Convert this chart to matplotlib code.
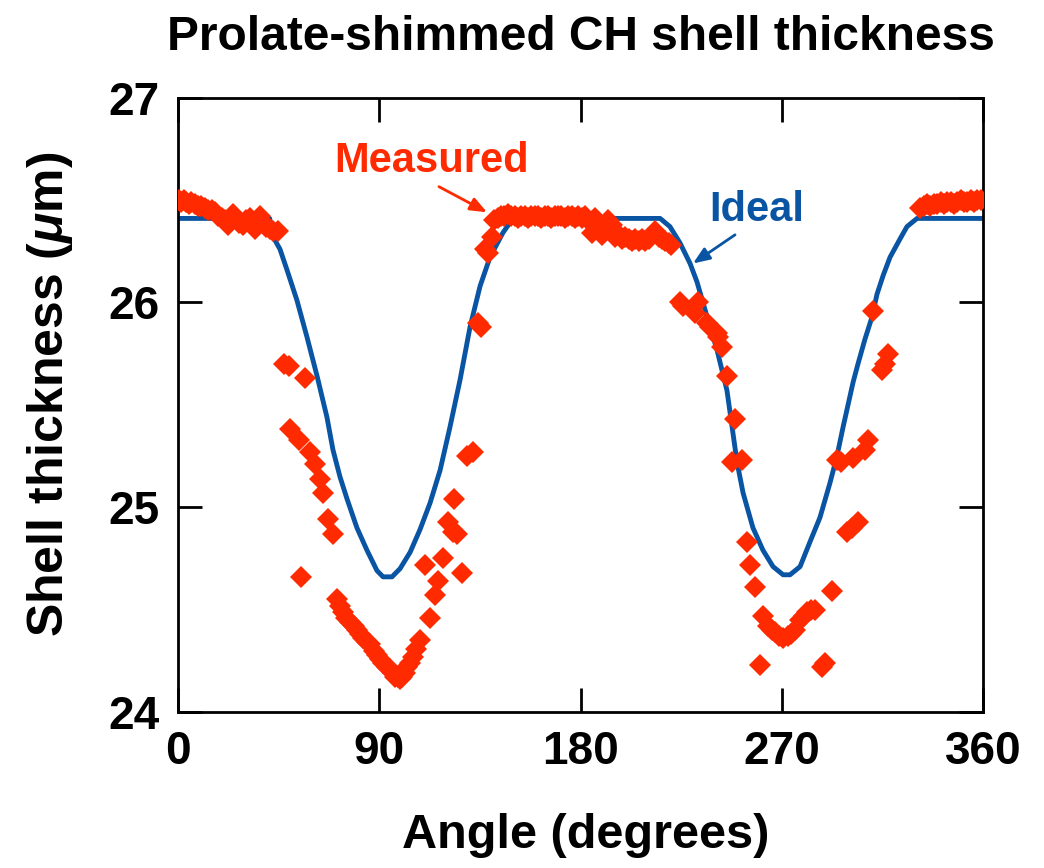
import matplotlib
matplotlib.use('Agg')
import matplotlib.pyplot as plt
from matplotlib import rcParams

rcParams['font.family'] = ['Liberation Sans', 'DejaVu Sans']
rcParams['font.weight'] = 'bold'
rcParams['mathtext.fontset'] = 'custom'
rcParams['mathtext.it'] = 'Liberation Sans:bold:italic'
rcParams['mathtext.rm'] = 'Liberation Sans:bold'

RED = '#ff2a00'
BLUE = '#0a55a3'

# ideal (design) thickness profile
ideal_angle = [0, 41.0, 42.5, 45.6, 48.7, 53.2, 57.7, 62.2, 66.6, 69.3, 72.4,
               75.6, 80.0, 84.5, 89.0, 91.7, 95.7, 99.3, 103.8, 108.2, 112.7,
               117.2, 121.6, 126.1, 130.6, 135.1, 139.5, 145.3, 148.5, 150.3,
               215.6, 220.0, 224.5, 229.0, 232.1, 236.6, 241.0, 245.5, 248.2,
               250.0, 252.7, 257.1, 261.6, 266.1, 270.6, 273.7, 278.2, 282.6,
               287.1, 291.6, 294.7, 297.4, 301.9, 304.1, 307.2, 310.4, 312.6,
               315.3, 318.4, 322.9, 326.0, 330.5, 360]
ideal_thick = [26.41, 26.41, 26.32, 26.26, 26.16, 26.01, 25.83, 25.64, 25.44,
               25.28, 25.15, 25.04, 24.90, 24.79, 24.69, 24.66, 24.66, 24.70,
               24.78, 24.89, 25.02, 25.18, 25.39, 25.62, 25.88, 26.08, 26.22,
               26.34, 26.39, 26.41, 26.41, 26.37, 26.29, 26.19, 26.10, 25.93,
               25.77, 25.57, 25.36, 25.22, 25.07, 24.90, 24.79, 24.71, 24.67,
               24.67, 24.71, 24.83, 24.95, 25.12, 25.25, 25.39, 25.61, 25.70,
               25.82, 25.93, 26.04, 26.13, 26.22, 26.31, 26.37, 26.41, 26.41]

# measured thickness
meas_angle = [0.5, 1.5, 2.5, 3.5, 5.0, 6.0, 7.5, 9.0, 10.5, 12.0, 13.5, 15.0,
              16.5, 18.0, 19.5, 21.0, 22.4, 23.5, 24.6, 26.0, 27.5, 29.0, 30.5,
              32.0, 33.2, 34.4, 35.5, 36.7, 38.0, 39.5, 41.0, 42.5, 44.7,
              47.5, 49.5, 50.1, 54.1, 55.0, 56.8, 59.0, 61.3, 63.5, 64.8, 67.1,
              69.3, 71.1, 72.5, 73.8, 75.3, 76.9, 78.5, 80.0, 81.4, 82.7, 84.3,
              85.9, 87.5, 89.0, 90.3, 91.7, 93.3, 94.8, 96.0, 97.0, 98.2, 99.3,
              100.2, 101.3, 102.4, 103.8, 105.1, 106.6, 108.2, 110.5, 112.7,
              114.9, 116.3, 118.5, 120.7, 123.0, 123.5, 124.8, 127.0, 129.2,
              131.9, 134.0, 135.5, 137.3, 138.6, 140.4,
              141.3, 143.0, 144.5, 146.0, 147.6, 149.0, 150.5, 152.0, 153.5,
              155.0, 156.5, 158.0, 159.5, 161.0, 162.5, 164.0, 165.5, 167.0,
              168.5, 170.0, 171.5, 173.0, 174.5, 176.0, 177.5, 179.0, 180.5,
              182.0, 183.5, 185.0, 186.5, 188.0, 189.5, 191.0, 192.5, 194.0,
              195.5, 197.0, 198.5, 200.0, 201.5, 203.0, 204.5, 206.0, 207.5,
              209.0, 210.5, 212.0, 213.5, 215.0, 216.5, 218.0, 219.5, 220.5,
              224.5, 225.8, 231.2, 232.5, 236.6, 237.9, 241.0, 241.5, 243.3,
              245.5, 247.8, 249.1, 252.2, 254.5, 255.8, 258.0, 260.3, 261.6,
              263.9, 265.5, 267.0, 268.8, 270.6, 272.8, 274.3, 275.9, 278.2,
              279.8, 281.3, 283.0, 284.9, 288.0, 289.4, 292.5, 294.7, 296.5,
              299.2, 301.4, 301.9, 304.1, 307.2, 308.6, 310.8, 314.8, 316.0,
              317.5,
              331.8, 333.5, 335.0, 336.5, 338.0, 339.5, 341.0, 342.5, 344.0,
              345.5, 347.0, 348.5, 350.0, 351.5, 353.0, 354.5, 356.0, 357.5,
              359.0]
meas_thick = [26.50, 26.49, 26.50, 26.49, 26.48, 26.49, 26.48, 26.47, 26.47,
              26.46, 26.45, 26.45, 26.44, 26.42, 26.41, 26.40, 26.38, 26.41,
              26.43, 26.41, 26.39, 26.38, 26.40, 26.41, 26.38, 26.36, 26.39,
              26.42, 26.39, 26.37, 26.36, 26.35, 26.35,
              25.70, 25.69, 25.38, 25.33, 24.66, 25.63, 25.27, 25.21, 25.14,
              25.07, 24.94, 24.87, 24.55, 24.52, 24.49, 24.46, 24.44, 24.42,
              24.40, 24.38, 24.36, 24.34, 24.33, 24.30, 24.28, 24.26, 24.24,
              24.22, 24.21, 24.19, 24.17, 24.17, 24.16, 24.17, 24.19, 24.22,
              24.24, 24.27, 24.31, 24.35, 24.72, 24.46, 24.57, 24.64, 24.75,
              24.93, 24.88, 25.04, 24.87, 24.68, 25.25, 25.27, 25.90, 25.88,
              26.26, 26.24, 26.32,
              26.40, 26.41, 26.42, 26.42, 26.43, 26.42, 26.42, 26.41, 26.42,
              26.42, 26.41, 26.42, 26.42, 26.42, 26.41, 26.42, 26.42, 26.41,
              26.42, 26.42, 26.42, 26.41, 26.42, 26.42, 26.41, 26.42, 26.41,
              26.42, 26.40, 26.34, 26.41, 26.37, 26.33, 26.35, 26.40, 26.38,
              26.32, 26.33, 26.31, 26.32, 26.31, 26.30, 26.31, 26.30, 26.31,
              26.30, 26.31, 26.33, 26.35, 26.32, 26.31, 26.30, 26.29, 26.28,
              26.00, 25.98, 25.95, 26.00, 25.90, 25.88, 25.85, 25.83, 25.78,
              25.64, 25.22, 25.43, 25.23, 24.83, 24.72, 24.61, 24.23, 24.47,
              24.42, 24.40, 24.39, 24.37, 24.36, 24.37, 24.38, 24.40, 24.45,
              24.47, 24.49, 24.50, 24.50, 24.22, 24.24, 24.59, 25.23, 25.22,
              24.88, 24.90, 25.24, 24.93, 25.28, 25.33, 25.96, 25.67, 25.70,
              25.75,
              26.46, 26.47, 26.48, 26.47, 26.48, 26.48, 26.49, 26.48, 26.49,
              26.49, 26.48, 26.49, 26.50, 26.49, 26.49, 26.50, 26.49, 26.50,
              26.50]

fig = plt.figure(figsize=(10.44, 8.68), dpi=100)
ax = fig.add_axes([178/1044, 1 - 712/868, 805/1044, 614.4/868])

ax.plot(ideal_angle, ideal_thick, color=BLUE, lw=3.5, zorder=2)
ax.plot(meas_angle, meas_thick, ls='none', marker='D', ms=11.5, mew=0,
        color=RED, zorder=3)

ax.set_xlim(0, 360)
ax.set_ylim(24, 27)
ax.set_xticks([0, 90, 180, 270, 360])
ax.set_yticks([24, 25, 26, 27])
ax.tick_params(direction='in', length=17, width=2, top=True, right=True,
               labelsize=33, pad=13)
for lab in ax.get_xticklabels() + ax.get_yticklabels():
    lab.set_fontweight('bold')
for sp in ax.spines.values():
    sp.set_linewidth(2)

ax.set_xlabel('Angle (degrees)', fontsize=35, fontweight='bold')
ax.xaxis.set_label_coords(0.506, -0.165)
ax.set_ylabel(r'Shell thickness ($\mu$m)', fontsize=36, fontweight='bold')
ax.yaxis.set_label_coords(-0.128, 0.517)
ax.set_title('Prolate-shimmed CH shell thickness', fontsize=34.5,
             fontweight='bold', pad=34)

arrow = '-|>,head_length=1.0,head_width=0.4'
ax.text(113.6, 26.69, 'Measured', color=RED, fontsize=30, fontweight='bold',
        ha='center', va='center')
ax.annotate('', xy=(138.2, 26.44), xytext=(116.7, 26.565),
            arrowprops=dict(arrowstyle=arrow, color=RED, lw=2,
                            shrinkA=0, shrinkB=0))
ax.text(259.0, 26.45, 'Ideal', color=BLUE, fontsize=30, fontweight='bold',
        ha='center', va='center')
ax.annotate('', xy=(230.3, 26.19), xytext=(249.1, 26.33),
            arrowprops=dict(arrowstyle=arrow, color=BLUE, lw=2,
                            shrinkA=0, shrinkB=0))

fig.savefig('out.png', dpi=100)
